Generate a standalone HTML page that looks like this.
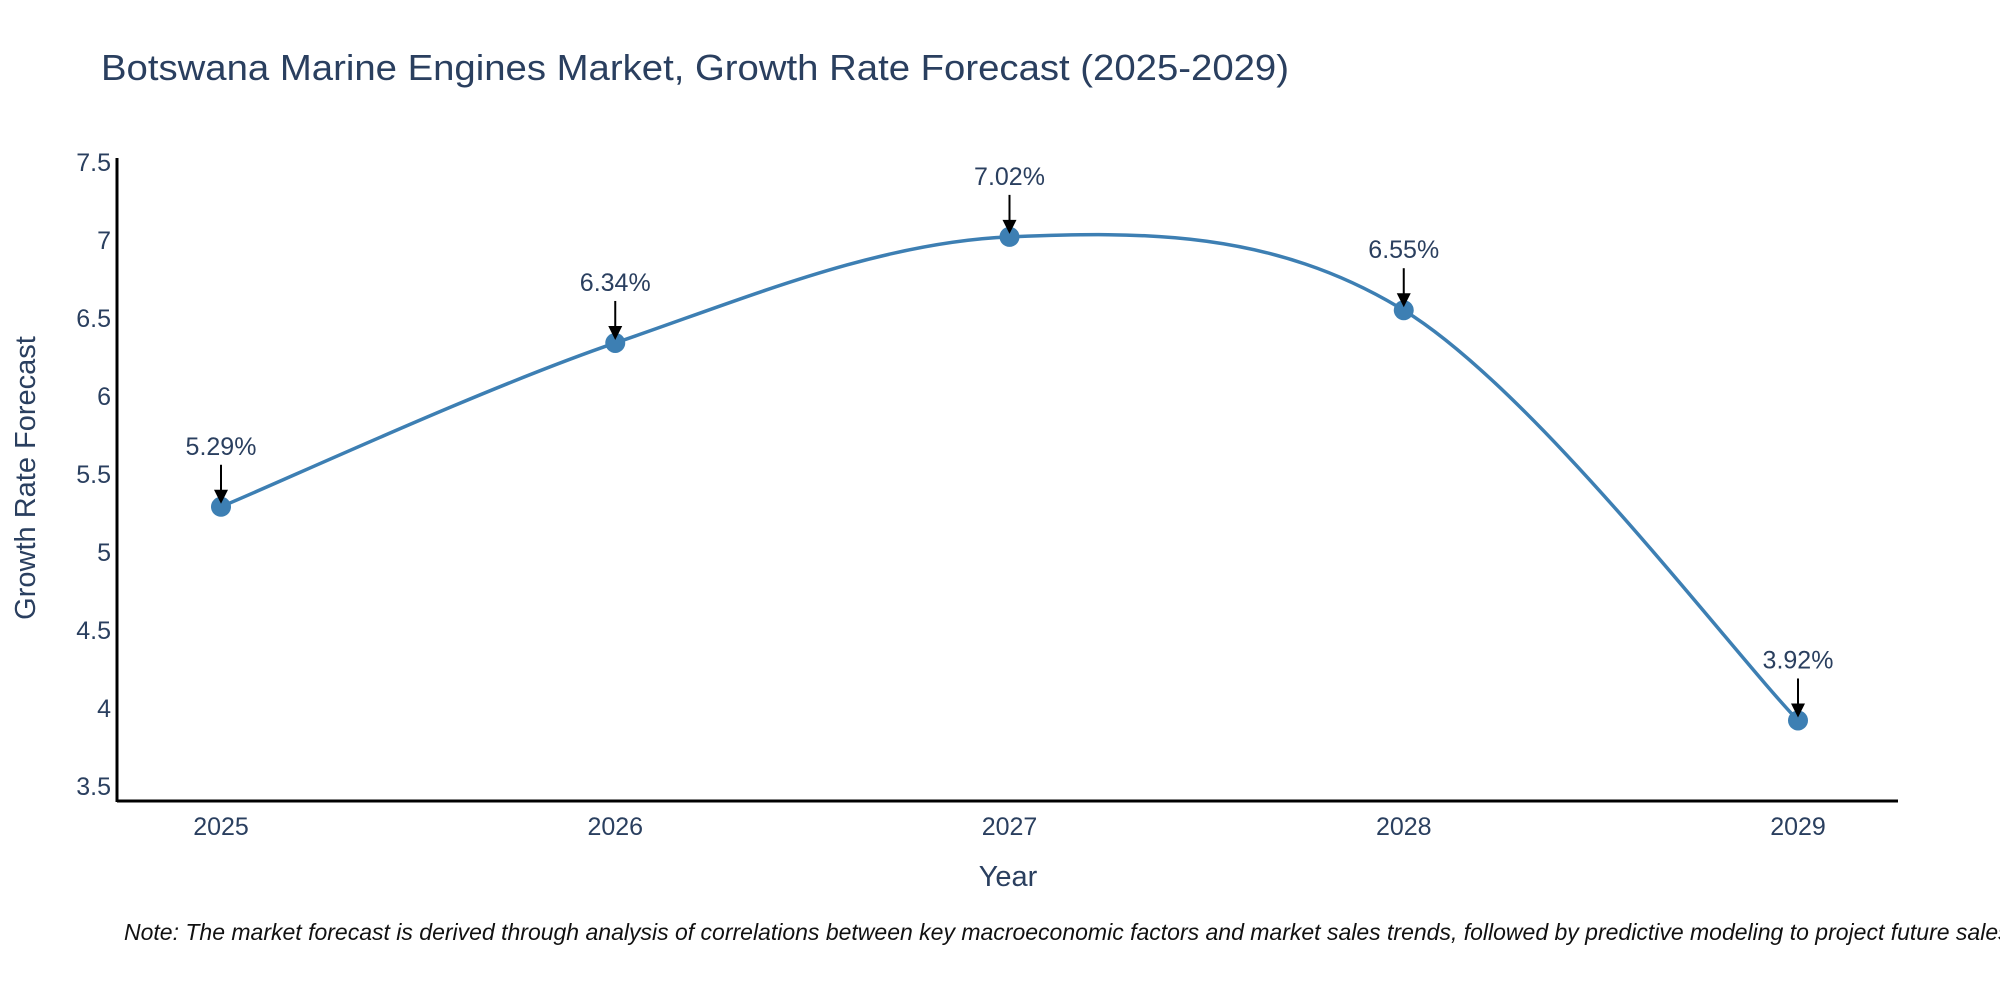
<!DOCTYPE html>
<html><head><meta charset="utf-8">
<style>
html,body{margin:0;padding:0;background:#fff;}
svg{display:block;font-family:"Liberation Sans",Arial,sans-serif;}
</style></head>
<body>
<svg id="chart" width="2000" height="1000" viewBox="0 0 2000 1000">
  <text x="101" y="80" font-size="36" fill="#2a3f5f" textLength="1188" lengthAdjust="spacingAndGlyphs">Botswana Marine Engines Market, Growth Rate Forecast (2025-2029)</text>
  <g id="axes"></g>
  <g id="marks"></g>
  <text x="1008" y="886" font-size="29" fill="#2a3f5f" text-anchor="middle">Year</text>
  <text transform="translate(35,478) rotate(-90)" font-size="29" fill="#2a3f5f" text-anchor="middle">Growth Rate Forecast</text>
  <text x="124" y="940" font-size="23" font-style="italic" fill="#111">Note: The market forecast is derived through analysis of correlations between key macroeconomic factors and market sales trends, followed by predictive modeling to project future sales.</text>
</svg>
<script>
const years = [2025, 2026, 2027, 2028, 2029];
const growth = [5.29, 6.34, 7.02, 6.55, 3.92];
const labels = ["5.29%", "6.34%", "7.02%", "6.55%", "3.92%"];
const yTicks = [3.5, 4, 4.5, 5, 5.5, 6, 6.5, 7, 7.5];
const yTickLabels = ["3.5", "4", "4.5", "5", "5.5", "6", "6.5", "7", "7.5"];

const NS = "http://www.w3.org/2000/svg";
const xS = v => 221 + (v - 2025) * (1798 - 221) / 4;
const yS = v => 786 - (v - 3.5) * (786 - 162) / 4;
function mk(tag, attrs, parent){const e=document.createElementNS(NS,tag);for(const k in attrs)e.setAttribute(k,attrs[k]);parent.appendChild(e);return e;}
const axes = document.getElementById('axes'), marks = document.getElementById('marks');

const xl = mk('line',{x1:117,y1:801,x2:1898,y2:801,stroke:'#000','stroke-width':3},axes);


const yl = mk('line',{x1:117,y1:158,x2:117,y2:802,stroke:'#000','stroke-width':3},axes);



yTicks.forEach((t,i)=>{
  const tl = mk('text',{x:111,y:yS(t)+9,'font-size':25,fill:'#2a3f5f','text-anchor':'end'},axes);
  tl.textContent = yTickLabels[i];
  
  
});
years.forEach(y=>{
  const tl = mk('text',{x:xS(y),y:835,'font-size':25,fill:'#2a3f5f','text-anchor':'middle'},axes);
  tl.textContent = String(y);
  
  
});

const pts = years.map((y,i)=>[xS(y), yS(growth[i])]);
let d = `M${pts[0][0]},${pts[0][1]}`;
const s = 0.5;
for(let i=0;i<pts.length-1;i++){
  const p0=pts[Math.max(0,i-1)], p1=pts[i], p2=pts[i+1], p3=pts[Math.min(pts.length-1,i+2)];
  const c1=[p1[0]+(p2[0]-p0[0])*s/3, p1[1]+(p2[1]-p0[1])*s/3];
  const c2=[p2[0]-(p3[0]-p1[0])*s/3, p2[1]-(p3[1]-p1[1])*s/3];
  d += ` C${c1[0]},${c1[1]} ${c2[0]},${c2[1]} ${p2[0]},${p2[1]}`;
}
const line = mk('path',{d:d,fill:'none',stroke:'#3d7fb3','stroke-width':3.5},marks);



pts.forEach((p,i)=>{
  const c = mk('circle',{cx:p[0],cy:p[1],r:10,fill:'#3d7fb3'},marks);
  
  
  const a = mk('line',{x1:p[0],y1:p[1]-42,x2:p[0],y2:p[1]-14,stroke:'#000','stroke-width':2},marks);
  
  
  const h = mk('polygon',{points:`${p[0]-7},${p[1]-17} ${p[0]+7},${p[1]-17} ${p[0]},${p[1]-3}`,fill:'#000'},marks);
  
  
  const t = mk('text',{x:p[0],y:p[1]-52,'font-size':25,fill:'#2a3f5f','text-anchor':'middle'},marks);
  t.textContent = labels[i];
  
  
});
</script>
</body></html>
